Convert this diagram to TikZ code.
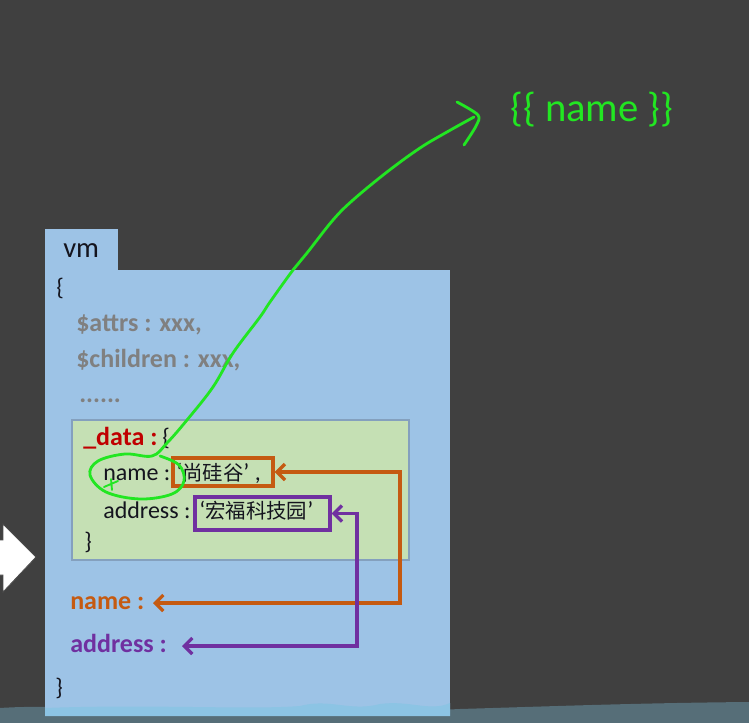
\documentclass[tikz,border=0pt]{standalone}
\usepackage{fontspec}
\setmainfont{Carlito}
\newfontfamily\cjk{Noto Sans CJK SC}
\usetikzlibrary{arrows.meta,fit}
\definecolor{bgdark}{RGB}{64,64,64}
\definecolor{slate}{RGB}{86,110,120}
\definecolor{vmblue}{RGB}{157,195,230}
\definecolor{vmstrip}{RGB}{140,196,228}
\definecolor{datagreen}{RGB}{197,224,180}
\definecolor{databorder}{RGB}{132,160,190}
\definecolor{graytxt}{RGB}{128,128,128}
\definecolor{darkred}{RGB}{192,0,0}
\definecolor{orangec}{RGB}{197,90,17}
\definecolor{purplec}{RGB}{112,48,160}
\definecolor{handgreen}{RGB}{34,230,34}
\definecolor{txtblack}{RGB}{20,20,30}
\newcommand{\hanzi}[1]{{\cjk\fontsize{15.3}{18}\selectfont #1}}
\tikzset{
  body/.style={anchor=base west, inner sep=0pt, text=txtblack, font=\fontsize{18}{20}\selectfont},
  graybody/.style={body, text=graytxt, font=\fontsize{19.5}{22}\selectfont\bfseries},
  boldbody/.style={body, font=\fontsize{19.5}{22}\selectfont\bfseries},
  obox/.style={draw=orangec, line width=2.6pt, inner sep=0pt},
  pbox/.style={draw=purplec, line width=2.6pt, inner sep=0pt},
  oline/.style={draw=orangec, line width=2.4pt, {Straight Barb[length=6pt,width=12pt]}-{Straight Barb[length=6pt,width=12pt]}},
  pline/.style={draw=purplec, line width=2.4pt, {Straight Barb[length=6pt,width=12pt]}-{Straight Barb[length=6pt,width=12pt]}},
  gline/.style={draw=handgreen, line width=2.1pt, line cap=round, line join=round},
}
\begin{document}
\begin{tikzpicture}[x=0.75pt,y=-0.75pt]
\useasboundingbox (0,0) rectangle (749,723);
% background
\fill[bgdark] (0,0) rectangle (749,723);
% ground band
\fill[slate] (0,708) .. controls (60,704) and (120,712) .. (200,710)
  .. controls (300,708) and (400,712) .. (460,709)
  .. controls (560,706) and (640,703) .. (749,702) -- (749,723) -- (0,723) -- cycle;
% left white arrow
\filldraw[fill=white, draw=black!70, line width=0.6pt]
  (-5,540) -- (3,540) -- (3,524) -- (36,557) -- (3,592) -- (3,575) -- (-5,575) -- cycle;
% vm box with tab
\node[fill=vmblue, inner sep=0pt, fit={(45,229)(118,271)}] (tab) {};
\node[fill=vmblue, inner sep=0pt, fit={(45,270)(450,716)}] (vmbox) {};
\fill[vmstrip] (45,708) .. controls (150,704) and (250,710) .. (300,706)
  .. controls (330,698) and (350,712) .. (380,704) .. controls (410,700) and (430,712) .. (450,703)
  -- (450,716) -- (45,716) -- cycle;
\node[body, font=\fontsize{21.5}{24}\selectfont] (vm) at (63,258) {vm};
\node[body] (ob) at (56,296) {\{};
\node[graybody] (attrs) at (76,332) {\$attrs : xxx,};
\node[graybody] (children) at (76,368) {\$children : xxx,};
\node[graybody] (dots) at (79,402) {......};
% _data box
\node[fill=datagreen, draw=databorder, line width=0.8pt, inner sep=0pt, fit={(72,420)(409,560)}] (databox) {};
\node[boldbody, text=darkred] (datalbl) at (83,445) {\_data :};
\node[body] (datab) at (162,445) {\{};
\node[body] (namek) at (103,480) {name :};
\node[body] (namev) at (176,480) {‘\hanzi{尚硅谷}’ ,};
\node[obox, fit={(173,458)(273,486)}] (sgg) {};
\node[body] (addrk) at (103,518) {address :};
\node[body] (addrv) at (199,518) {‘\hanzi{宏福科技园}’};
\node[pbox, fit={(195,497)(330,530)}] (hf) {};
\node[body] (cb) at (84,549) {\}};
% vm properties
\node[boldbody, text=orangec] (nameprop) at (70,609) {name :};
\node[boldbody, text=purplec] (addrprop) at (70,652) {address :};
\node[body] (cb2) at (55,695) {\}};
% connectors
\coordinate (oc1) at (400,472);
\coordinate (oc2) at (400,603);
\coordinate (otip) at (153,603);
\draw[oline] (sgg.east) -- (oc1) -- (oc2) -- (otip);
\coordinate (pc1) at (357,513.5);
\coordinate (pc2) at (357,646);
\coordinate (ptip) at (182,646);
\draw[pline] (hf.east) -- (pc1) -- (pc2) -- (ptip);
% template
\node[anchor=base west, inner sep=0pt, text=handgreen, font=\fontsize{30.5}{34}\selectfont] (tpl) at (510,122) {\{\{ name \}\}};
% green hand drawn connector
\draw[gline] plot[smooth, tension=0.6] coordinates {
  (474,117) (447,132) (420,148) (387,172) (353,200) (333,220) (307,253)
  (293,270) (270,302) (260,317) (233,353) (213,387) (187,420) (167,443)
  (152,456) (125,454) (98,461) (90,475) (106,492) (140,499) (172,494)
  (184,481) (179,465) (160,456)};
\draw[gline] plot[smooth, tension=0.5] coordinates {(457,102) (478,115) (476,126) (464,145)};
\draw[gline, line width=1.4pt] (104,487) -- (118,481) (111,479) -- (112,490);
\end{tikzpicture}
\end{document}
